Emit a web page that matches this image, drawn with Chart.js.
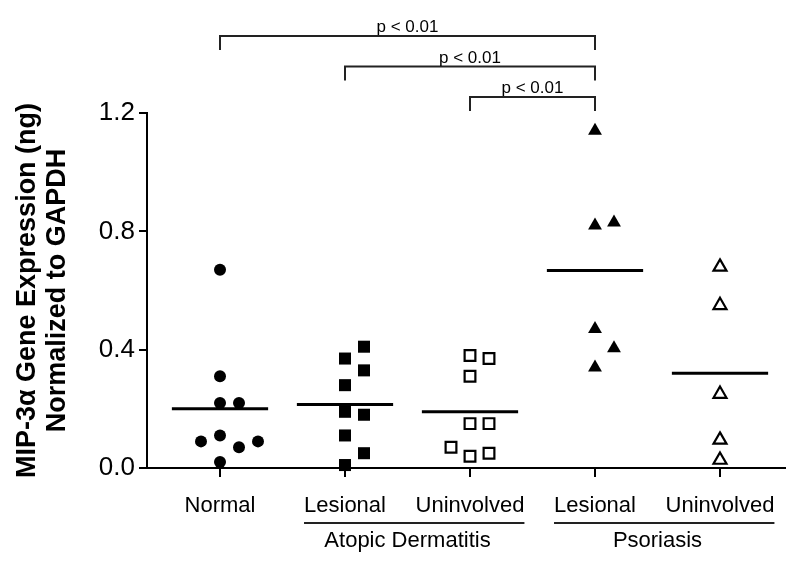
<!DOCTYPE html>
<html>
<head>
<meta charset="utf-8">
<script src="https://cdn.jsdelivr.net/npm/chart.js@4.4.1/dist/chart.umd.min.js"></script>
<style>
  html, body { margin: 0; padding: 0; background: #fff; }
</style>
</head>
<body>
<canvas id="chart" width="800" height="567"></canvas>
<script>
const categories = ["Normal", "Lesional", "Uninvolved", "Lesional", "Uninvolved"]
const groupNames = ["Atopic Dermatitis", "Psoriasis"]
const groupSpans = [[2, 3], [4, 5]] // category numbers under each group label
const yTitle = ["MIP-3\u03b1 Gene Expression (ng)", "Normalized to GAPDH"]

// values per category, ng normalized to GAPDH
const normal = [0.67, 0.31, 0.22, 0.22, 0.11, 0.07, 0.09, 0.09, 0.02]
const adLesional = [0.37, 0.41, 0.33, 0.28, 0.19, 0.18, 0.11, 0.05, 0.01]
const adUninvolved = [0.38, 0.37, 0.31, 0.15, 0.15, 0.04, 0.05, 0.07]
const psLesional = [1.14, 0.82, 0.83, 0.47, 0.405, 0.34]
const psUninvolved = [0.68, 0.55, 0.25, 0.095, 0.027]

const yTicks = [0, 0.4, 0.8, 1.2]

// significance brackets (category numbers)
const pFrom = [1, 2, 3]
const pTo = [4, 4, 4]
const pLabels = ["p < 0.01", "p < 0.01", "p < 0.01"]

const FONT = "'Liberation Sans', Arial, Helvetica, sans-serif"

// simple column-scatter dodge: points that would overlap get pushed sideways
function dodge(values) {
  const placed = []
  return values.map((v) => {
    for (const s of [0, 1, -1, 2, -2, 3, -3]) {
      if (!placed.some((p) => p.s === s && Math.abs(p.v - v) < 0.066)) {
        placed.push({ v, s })
        return s
      }
    }
    return 0
  })
}

const mean = (arr) => arr.reduce((a, b) => a + b, 0) / arr.length

const series = [
  { values: normal, style: "circle", radius: 6, filled: true },
  { values: adLesional, style: "rect", radius: 8.5, filled: true },
  { values: adUninvolved, style: "rect", radius: 7.6, filled: false },
  { values: psLesional, style: "triangle", radius: 8, filled: true },
  { values: psUninvolved, style: "triangle", radius: 7.5, filled: false },
]

const datasets = []
series.forEach((s, i) => {
  const slots = dodge(s.values)
  datasets.push({
    type: "scatter",
    data: s.values.map((v, k) => ({ x: i + 1 + slots[k] * 0.152, y: v })),
    pointStyle: s.style,
    pointRadius: s.radius,
    pointBorderWidth: s.filled ? 0 : 2.2,
    pointBackgroundColor: s.filled ? "#000" : "#fff",
    pointBorderColor: "#000",
    clip: false,
  })
})
series.forEach((s, i) => {
  const m = mean(s.values)
  datasets.push({
    type: "scatter",
    showLine: true,
    data: [{ x: i + 1 - 0.385, y: m }, { x: i + 1 + 0.385, y: m }],
    borderColor: "#000",
    borderWidth: 3,
    pointRadius: 0,
    clip: false,
  })
})

const annotations = {
  id: "annotations",
  afterDraw(chart) {
    const { ctx, chartArea, scales: { x, y } } = chart
    ctx.save()
    ctx.fillStyle = "#000"
    ctx.font = "22px " + FONT
    ctx.textAlign = "center"
    ctx.textBaseline = "middle"
    const rowY = 506
    categories.forEach((c, i) => ctx.fillText(c, x.getPixelForValue(i + 1), rowY))
    groupNames.forEach((g, k) => {
      const [a, b] = groupSpans[k]
      const left = x.getPixelForValue(a) - ctx.measureText(categories[a - 1]).width / 2
      const right = x.getPixelForValue(b) + ctx.measureText(categories[b - 1]).width / 2
      ctx.fillStyle = "#222"
      ctx.fillRect(left, rowY + 16, right - left, 2)
      ctx.fillStyle = "#000"
      ctx.fillText(g, (x.getPixelForValue(a) + x.getPixelForValue(b)) / 2, rowY + 35)
    })

    // y axis title, two rotated lines (drawn here so it is not squeezed to the axis height)
    ctx.save()
    ctx.translate(28, (chartArea.top + chartArea.bottom) / 2)
    ctx.rotate(-Math.PI / 2)
    ctx.font = "bold 27px " + FONT
    yTitle.forEach((t, i) => ctx.fillText(t, 0, i * 29.5))
    ctx.restore()

    // brackets above the plot
    const n = pFrom.length
    const topPx = y.getPixelForValue(1.2)
    ctx.strokeStyle = "#222"
    ctx.lineWidth = 2
    ctx.font = "17px " + FONT
    ctx.textBaseline = "alphabetic"
    for (let i = 0; i < n; i++) {
      const ly = topPx - 16 - 30.5 * (n - 1 - i)
      const x1 = x.getPixelForValue(pFrom[i])
      const x2 = x.getPixelForValue(pTo[i])
      ctx.beginPath()
      ctx.moveTo(x1, ly + 14)
      ctx.lineTo(x1, ly)
      ctx.lineTo(x2, ly)
      ctx.lineTo(x2, ly + 14)
      ctx.stroke()
      ctx.fillText(pLabels[i], (x1 + x2) / 2, ly - 4)
    }
    ctx.restore()
  },
}

new Chart(document.getElementById("chart"), {
  type: "scatter",
  data: { datasets },
  plugins: [annotations],
  options: {
    responsive: false,
    animation: false,
    devicePixelRatio: 1,
    layout: { padding: { top: 113, right: 15, bottom: 0, left: 0 } },
    plugins: { legend: { display: false }, tooltip: { enabled: false } },
    scales: {
      x: {
        type: "linear",
        min: 0.416,
        max: 5.52,
        afterFit: (scale) => { scale.height = 99 },
        afterBuildTicks: (scale) => {
          scale.ticks = categories.map((_, i) => ({ value: i + 1 }))
        },
        ticks: { display: false },
        grid: { drawOnChartArea: false, tickLength: 9, color: "#000", lineWidth: 2 },
        border: { display: true, color: "#000", width: 2 },
      },
      y: {
        min: 0,
        max: 1.2,
        afterFit: (scale) => { scale.width = 147 },
        afterBuildTicks: (scale) => {
          scale.ticks = yTicks.map((v) => ({ value: v }))
        },
        ticks: {
          callback: (v) => v.toFixed(1),
          color: "#000",
          padding: 4,
          font: { family: FONT, size: 26 },
        },
        grid: { drawOnChartArea: false, tickLength: 8, color: "#000", lineWidth: 2 },
        border: { display: true, color: "#000", width: 2 },
      },
    },
  },
})
</script>
</body>
</html>
